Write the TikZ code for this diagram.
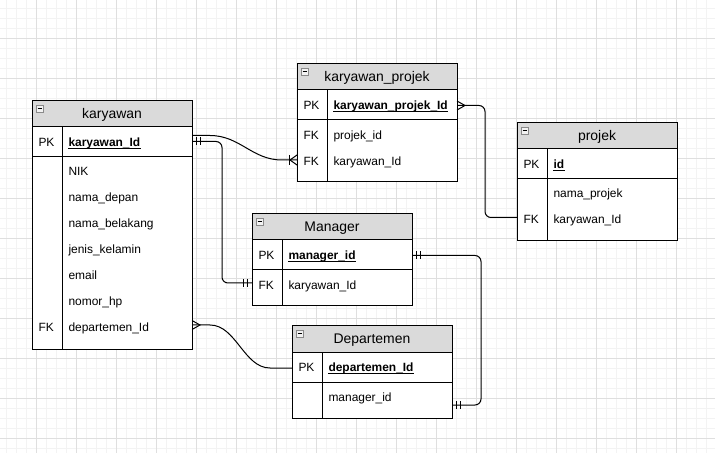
\documentclass[tikz,border=0pt]{standalone}
\usepackage{fontspec}
\setmainfont{Liberation Sans}
\usepackage{tikz}
\definecolor{hdrgray}{HTML}{DADADA}
\definecolor{gridminor}{HTML}{F3F3F3}
\definecolor{gridmajor}{HTML}{DFDFDF}
\definecolor{icongray}{HTML}{8A8A8A}
\definecolor{iconfill}{HTML}{F2F2F2}

\begin{document}
\begin{tikzpicture}[x=1bp, y=-1bp, line width=1bp,
    gridmin/.style={draw=gridminor, line width=0.8bp},
    gridmaj/.style={draw=gridmajor, line width=0.8bp},
    box/.style={draw, fill=white},
    hdr/.style={draw, fill=hdrgray},
    icon/.style={draw=icongray, fill=iconfill, line width=0.8bp},
    tname/.style={inner sep=0pt, text height=10bp, text depth=0pt, font=\fontsize{14}{16}\selectfont},
    fld/.style={anchor=west, inner sep=0pt, text height=8.6bp, text depth=0pt, font=\fontsize{12}{14}\selectfont},
    key/.style={fld, font=\fontsize{12}{14}\selectfont\bfseries},
    ul/.style={line width=0.9bp},
    rel/.style={line width=1bp, rounded corners=6bp},
]

    % Page and background grid
    \useasboundingbox (0,0) rectangle (715,453);
    \fill[white] (0,0) rectangle (715,453);
    \foreach \x in {6,16,...,706} \draw[gridmin] (\x,0) -- (\x,453);
    \foreach \y in {8,18,...,448} \draw[gridmin] (0,\y) -- (715,\y);
    \foreach \x in {36,76,...,676} \draw[gridmaj] (\x,0) -- (\x,453);
    \foreach \y in {38,78,...,438} \draw[gridmaj] (0,\y) -- (715,\y);

    % Table karyawan
    \draw[box] (32,127) rectangle (192,349);
    \draw[hdr] (32,101) rectangle (192,127);
    \draw (32,157) -- (192,157);
    \draw (62,127) -- (62,349);
    \draw[icon] (36,105) rectangle (43,112);
    \draw[line width=0.8bp] (37.5,108.5) -- (41.5,108.5);
    \node[tname] (karyawan) at (112,114) {karyawan};
    \node[fld] (karyawan-pk) at (38,142) {PK};
    \node[key] (karyawan-id) at (68,142) {karyawan\_Id};
    \draw[ul] ([yshift=-1.5bp]karyawan-id.south west) -- ([yshift=-1.5bp]karyawan-id.south east);
    \foreach \f [count=\i] in {NIK, nama\_depan, nama\_belakang, jenis\_kelamin, email, nomor\_hp, departemen\_Id}
        \node[fld] (karyawan-f\i) at (68,145+26*\i) {\f};
    \node[fld] (karyawan-fk) at (38,327) {FK};

    % Table karyawan_projek
    \draw[box] (297,90) rectangle (457,182);
    \draw[hdr] (297,64) rectangle (457,90);
    \draw (297,120) -- (457,120);
    \draw (327,90) -- (327,182);
    \draw[icon] (301,68) rectangle (308,75);
    \draw[line width=0.8bp] (302.5,71.5) -- (306.5,71.5);
    \node[tname] (kproj) at (377,77) {karyawan\_projek};
    \node[fld] (kproj-pk) at (303,105.5) {PK};
    \node[key] (kproj-id) at (333,105.5) {karyawan\_projek\_Id};
    \draw[ul] ([yshift=-1.5bp]kproj-id.south west) -- ([yshift=-1.5bp]kproj-id.south east);
    \node[fld] (kproj-fk1) at (303,135) {FK};
    \node[fld] (kproj-f1) at (333,135) {projek\_id};
    \node[fld] (kproj-fk2) at (303,161) {FK};
    \node[fld] (kproj-f2) at (333,161) {karyawan\_Id};

    % Table projek
    \draw[box] (517,149) rectangle (677,241);
    \draw[hdr] (517,123) rectangle (677,149);
    \draw (517,179) -- (677,179);
    \draw (547,149) -- (547,241);
    \draw[icon] (521,127) rectangle (528,134);
    \draw[line width=0.8bp] (522.5,130.5) -- (526.5,130.5);
    \node[tname] (projek) at (597,136) {projek};
    \node[fld] (projek-pk) at (523,164) {PK};
    \node[key] (projek-id) at (553,164) {id};
    \draw[ul] ([yshift=-1.5bp]projek-id.south west) -- ([yshift=-1.5bp]projek-id.south east);
    \node[fld] (projek-f1) at (553,193) {nama\_projek};
    \node[fld] (projek-fk) at (523,219) {FK};
    \node[fld] (projek-f2) at (553,219) {karyawan\_Id};

    % Table Manager
    \draw[box] (252,240) rectangle (412,306);
    \draw[hdr] (252,214) rectangle (412,240);
    \draw (252,270) -- (412,270);
    \draw (282,240) -- (282,306);
    \draw[icon] (256,218) rectangle (263,225);
    \draw[line width=0.8bp] (257.5,221.5) -- (261.5,221.5);
    \node[tname] (manager) at (332,227) {Manager};
    \node[fld] (manager-pk) at (258,255.5) {PK};
    \node[key] (manager-id) at (288,255.5) {manager\_id};
    \draw[ul] ([yshift=-1.5bp]manager-id.south west) -- ([yshift=-1.5bp]manager-id.south east);
    \node[fld] (manager-fk) at (258,285.5) {FK};
    \node[fld] (manager-f1) at (288,285.5) {karyawan\_Id};

    % Table Departemen
    \draw[box] (292,352) rectangle (452,418);
    \draw[hdr] (292,326) rectangle (452,352);
    \draw (292,382) -- (452,382);
    \draw (322,352) -- (322,418);
    \draw[icon] (296,330) rectangle (303,337);
    \draw[line width=0.8bp] (297.5,333.5) -- (301.5,333.5);
    \node[tname] (departemen) at (372,339) {Departemen};
    \node[fld] (departemen-pk) at (298,367) {PK};
    \node[key] (departemen-id) at (328,367) {departemen\_Id};
    \draw[ul] ([yshift=-1.5bp]departemen-id.south west) -- ([yshift=-1.5bp]departemen-id.south east);
    \node[fld] (departemen-f1) at (328,397) {manager\_id};

    % Ports on the table edges
    \coordinate (k-kp) at (192,135.5);
    \coordinate (k-mgr) at (192,141.5);
    \coordinate (k-dep) at (192,325);
    \coordinate (kp-fk) at (297,160);
    \coordinate (kp-pk) at (457,105.5);
    \coordinate (p-fk) at (517,217.5);
    \coordinate (m-fk) at (252,283);
    \coordinate (m-pk) at (412,255.5);
    \coordinate (d-pk) at (292,368);
    \coordinate (d-mgr) at (452,405);

    % Relations
    \draw (k-kp) -- (210,135.5) .. controls (240,135.5) and (252,160) .. (282,160) -- (kp-fk);
    \draw (k-dep) -- (210,325) .. controls (236,325) and (244,368) .. (270,368) -- (d-pk);
    \draw[rel] (k-mgr) -- ++(30,0) |- (m-fk);
    \draw[rel] (kp-pk) -- ++(28,0) |- (p-fk);
    \draw[rel] (m-pk) -- ++(69,0) |- (d-mgr);

    % Mandatory one
    \draw (k-mgr) ++(4,-4) -- ++(0,8) ++(4,-8) -- ++(0,8);
    \draw (m-fk) ++(-5,-4) -- ++(0,8) ++(-4,-8) -- ++(0,8);
    \draw (m-pk) ++(4,-4) -- ++(0,8) ++(4,-8) -- ++(0,8);
    \draw (d-mgr) ++(4,-4) -- ++(0,8) ++(4,-8) -- ++(0,8);

    % Many
    \draw (kp-pk) ++(0,-4.5) -- ++(8,4.5) -- ++(-8,4.5);
    \draw (k-dep) ++(0,-4.5) -- ++(8,4.5) -- ++(-8,4.5);

    % One or many
    \draw (kp-fk) ++(0,-5) -- ++(-7,5) -- ++(7,5);
    \draw (kp-fk) ++(-8,-5) -- ++(0,10);
\end{tikzpicture}
\end{document}
